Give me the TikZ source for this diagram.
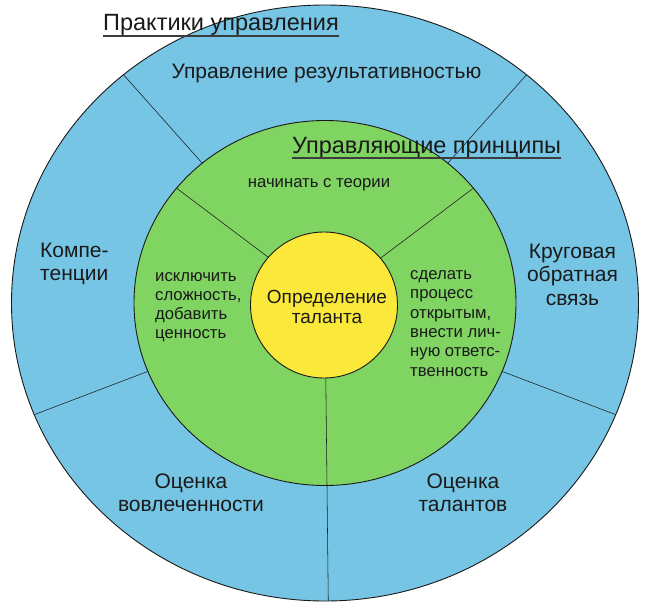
\documentclass[tikz,border=0pt]{standalone}
\usepackage{fontspec}
\setmainfont{Liberation Sans}
\definecolor{ringblue}{RGB}{118,197,229}
\definecolor{ringgreen}{RGB}{127,212,98}
\definecolor{coreyellow}{RGB}{250,233,58}
\definecolor{inkc}{RGB}{26,26,26}
\begin{document}
\begin{tikzpicture}[x=1pt,y=1pt,
  rimline/.style={draw=inkc, line width=0.9pt},
  divider/.style={draw=inkc, line width=0.55pt},
  uline/.style={draw=inkc!85, line width=1.3pt},
  titlelbl/.style={font=\fontsize{23.5}{27}\selectfont, text=inkc, inner sep=0pt},
  outerlbl/.style={font=\fontsize{21}{23.5}\selectfont, text=inkc, inner sep=0pt, align=center},
  greenlbl/.style={font=\fontsize{16.7}{19.3}\selectfont, text=inkc, inner sep=0pt, align=left},
  corelbl/.style={font=\fontsize{19}{20.5}\selectfont, text=inkc, inner sep=0pt, align=center}]
\useasboundingbox (-325,-308) rectangle (322,303);
\fill[white] (-325,-308) rectangle (322,303);
% outer ring
\filldraw[fill=ringblue, rimline] (0,0) ellipse [x radius=313.5, y radius=298];
\foreach \a in {50,130,202,338,270.6}
  \draw[divider] (\a:191 and 182.5) -- (\a:313.5 and 298);
% middle ring
\filldraw[fill=ringgreen, rimline] (0,0) ellipse [x radius=191, y radius=182.5];
\foreach \a in {39,141,270.6}
  \draw[divider] (\a:68 and 68) -- (\a:191 and 182.5);
% core
\filldraw[fill=coreyellow, rimline] (-1,-2) ellipse [x radius=73.5, y radius=73];
% titles
\node[titlelbl, anchor=base west] (ttl) at (-222,272) {Практики управления};
\draw[uline] ([yshift=-5pt]ttl.base west) -- ([yshift=-5pt]ttl.base east);
\node[titlelbl, anchor=base west] (prin) at (-33,150) {Управляющие принципы};
\draw[uline] ([yshift=-5pt]prin.base west) -- ([yshift=-5pt]prin.base east);
% outer labels (base anchor = baseline of last line)
\node[outerlbl, anchor=base] (perf) at (1.5,225) {Управление результативностью};
\node[outerlbl, anchor=base west, align=left] (comp) at (-285,22.5) {Компе-\\тенции};
\node[outerlbl, anchor=base] (fb) at (247.5,-2) {Круговая\\обратная\\связь};
\node[outerlbl, anchor=base] (eng) at (-134,-208.5) {Оценка\\вовлеченности};
\node[outerlbl, anchor=base] (tal) at (138,-208.5) {Оценка\\талантов};
% middle labels
\node[greenlbl, anchor=base] (theory) at (-6,116) {начинать с теории};
\node[greenlbl, anchor=base west] (simp) at (-170,-35.9) {исключить\\сложность,\\добавить\\ценность};
\node[greenlbl, anchor=base west] (open) at (85,-73) {сделать\\процесс\\открытым,\\внести лич-\\ную ответс-\\твенность};
% core label
\node[corelbl, anchor=base] (core) at (2,-20.5) {Определение\\таланта};
\end{tikzpicture}
\end{document}
